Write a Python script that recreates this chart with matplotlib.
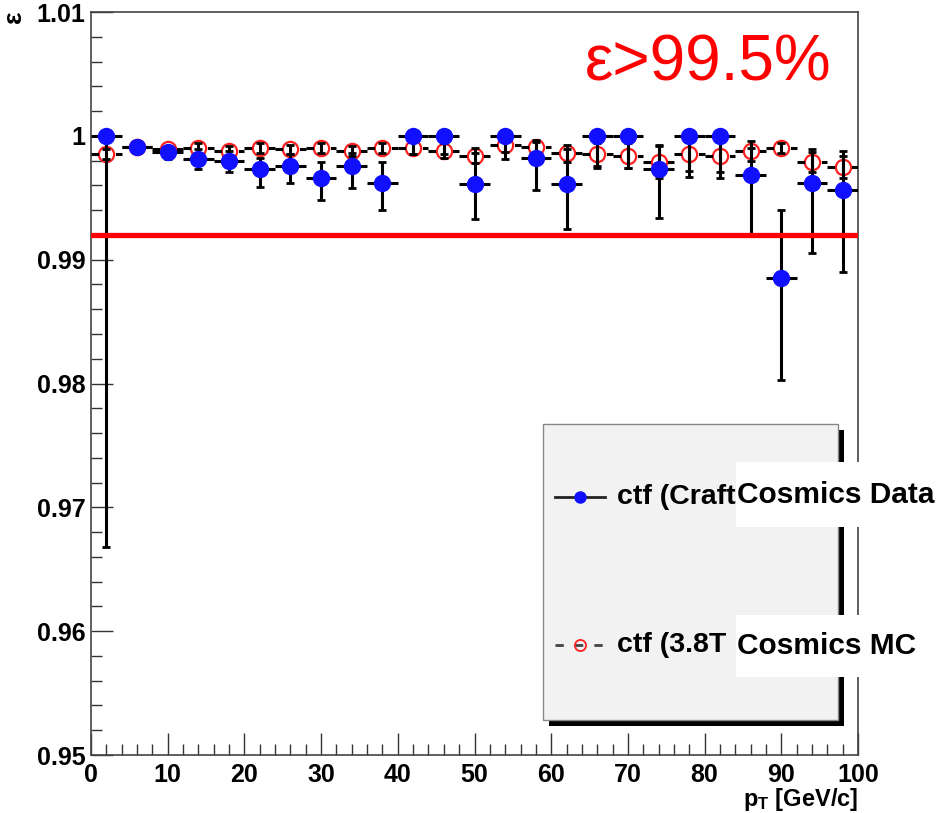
import matplotlib
matplotlib.use("Agg")
import matplotlib.pyplot as plt
from matplotlib.patches import Rectangle
from matplotlib.lines import Line2D
from matplotlib.ticker import MultipleLocator, FixedLocator

plt.rcParams['font.family'] = ['Liberation Sans', 'DejaVu Sans']
plt.rcParams['mathtext.fontset'] = 'custom'
plt.rcParams['mathtext.rm'] = 'Liberation Sans'
plt.rcParams['mathtext.bf'] = 'Liberation Sans:bold'

# pT bin centres (4 GeV/c wide bins)
pt_centers = [2, 6, 10, 14, 18, 22, 26, 30, 34, 38, 42, 46, 50,
              54, 58, 62, 66, 70, 74, 78, 82, 86, 90, 94, 98]
pt_halfwidth = [2] * 25

# Tracking efficiency, cosmics data (CRAFT)
data_eff = [1.0, 0.9991, 0.9987, 0.9981, 0.9980, 0.9973, 0.9976, 0.9966,
            0.9976, 0.9962, 1.0, 1.0, 0.9961, 1.0, 0.9982, 0.9961, 1.0,
            1.0, 0.9973, 1.0, 1.0, 0.9968, 0.9885, 0.9962, 0.9956]
data_err_lo = [0.0332, 0.0002, 0.0006, 0.0008, 0.0009, 0.0014, 0.0014,
               0.0018, 0.0018, 0.0022, 0.0015, 0.0015, 0.0028, 0.0019,
               0.0026, 0.0036, 0.0026, 0.0026, 0.0039, 0.0033, 0.0034,
               0.0048, 0.0082, 0.0057, 0.0066]
data_err_hi = [0.0, 0.0002, 0.0004, 0.0008, 0.0008, 0.0009, 0.0009,
               0.0013, 0.0010, 0.0017, 0.0, 0.0, 0.0025, 0.0, 0.0013,
               0.0028, 0.0, 0.0, 0.0020, 0.0, 0.0, 0.0022, 0.0055,
               0.0027, 0.0032]

# Tracking efficiency, cosmics simulation (3.8T)
mc_eff = [0.9985, 0.9991, 0.9989, 0.9990, 0.9988, 0.9990, 0.9989, 0.9990,
          0.9988, 0.9990, 0.9990, 0.9988, 0.9984, 0.9993, 0.9991, 0.9986,
          0.9985, 0.9984, 0.9979, 0.9985, 0.9984, 0.9988, 0.9990, 0.9979,
          0.9975]
mc_err = [0.0004, 0.0003, 0.0003, 0.0004, 0.0004, 0.0004, 0.0004, 0.0004,
          0.0004, 0.0004, 0.0005, 0.0006, 0.0006, 0.0006, 0.0006, 0.0007,
          0.0009, 0.0010, 0.0013, 0.0013, 0.0013, 0.0008, 0.0004, 0.0008,
          0.0009]

threshold = 0.992

yticks = [0.95, 0.96, 0.97, 0.98, 0.99, 1.0, 1.01]
ytick_labels = ['0.95', '0.96', '0.97', '0.98', '0.99', '1', '1.01']
xticks = [0, 10, 20, 30, 40, 50, 60, 70, 80, 90, 100]

W, H = 943, 813
fig = plt.figure(figsize=(W / 100, H / 100), dpi=100)
L, R, T, B = 91, 858, 12, 755
ax = fig.add_axes([L / W, 1 - B / H, (R - L) / W, (B - T) / H])
ax.set_xlim(0, 100)
ax.set_ylim(0.95, 1.01)

# simulation: open red circles with dashed horizontal bars
ax.plot(pt_centers, mc_eff, linestyle='none', marker='o', ms=11,
        mfc='none', mec='#ff2020', mew=1.6, zorder=3)
mc_x = ax.errorbar(pt_centers, mc_eff, xerr=pt_halfwidth, fmt='none',
                   ecolor='black', elinewidth=2.2, capsize=0, zorder=4)
for lc in mc_x[2]:
    lc.set_linestyle((0, (2.5, 5.5)))
ax.errorbar(pt_centers, mc_eff, yerr=mc_err, fmt='none', ecolor='black',
            elinewidth=2.2, capsize=3, capthick=2, zorder=4)

# data: filled blue circles with solid error bars
ax.errorbar(pt_centers, data_eff, xerr=pt_halfwidth, fmt='none',
            ecolor='black', elinewidth=2.2, capsize=0, zorder=5)
ax.errorbar(pt_centers, data_eff, yerr=[data_err_lo, data_err_hi],
            fmt='none', ecolor='black', elinewidth=2.2, capsize=3,
            capthick=2, zorder=5)
ax.plot(pt_centers, data_eff, linestyle='none', marker='o', ms=11.5,
        mfc='#1010ff', mec='#1010ff', zorder=6)

# 99.2% reference line
ax.axhline(threshold, color='#ff0000', lw=3.8, zorder=7)

# axes style
ax.yaxis.set_major_locator(FixedLocator(yticks))
ax.set_yticklabels(ytick_labels)
ax.yaxis.set_minor_locator(MultipleLocator(0.002))
ax.xaxis.set_major_locator(FixedLocator(xticks))
ax.xaxis.set_minor_locator(MultipleLocator(2))
ax.tick_params(which='both', direction='in', top=False, right=False,
               color='#333333', width=1.0)
ax.tick_params(which='major', length=16)
ax.tick_params(which='minor', length=8)
ax.tick_params(axis='y', pad=4)
ax.tick_params(axis='x', pad=6)
for lab in ax.get_xticklabels() + ax.get_yticklabels():
    lab.set_fontweight('bold')
    lab.set_fontsize(18)
for sp in ax.spines.values():
    sp.set_color('#444444')
    sp.set_linewidth(1.2)

# legend box with shadow
def ax_pt(px, py):
    return (px - L) / (R - L), (B - py) / (B - T)

x0, y0 = ax_pt(543, 720)
x1, y1 = ax_pt(838, 424)
dx, dy = 6 / (R - L), 6 / (B - T)
ax.add_patch(Rectangle((x0 + dx, y0 - dy), x1 - x0, y1 - y0,
                       transform=ax.transAxes, facecolor='black',
                       edgecolor='none', zorder=8))
ax.add_patch(Rectangle((x0, y0), x1 - x0, y1 - y0, transform=ax.transAxes,
                       facecolor='#f2f2f2', edgecolor='#888888', lw=1.0,
                       zorder=9))

lx0, ey1 = ax_pt(555, 497)
lx1, ey2 = ax_pt(605, 645)
lxm = (lx0 + lx1) / 2
ax.add_line(Line2D([lx0, lx1], [ey1, ey1], transform=ax.transAxes,
                   color='#222222', lw=2, zorder=10))
ax.add_line(Line2D([lxm], [ey1], transform=ax.transAxes, marker='o',
                   ms=8, mfc='#1010ff', mec='#1010ff', zorder=11))
ax.add_line(Line2D([lx0, lx1], [ey2, ey2], transform=ax.transAxes,
                   color='#444444', lw=2, linestyle=(0, (3, 4)),
                   zorder=10))
ax.add_line(Line2D([lxm], [ey2], transform=ax.transAxes, marker='o',
                   ms=8, mfc='none', mec='#ff2020', mew=1.3, zorder=11))
tx, _ = ax_pt(617, 0)
ax.text(tx, ey1, 'ctf (Craft', transform=ax.transAxes, fontsize=20.5,
        fontweight='bold', va='center', ha='left', zorder=11)
ax.text(tx, ey2, 'ctf (3.8T I', transform=ax.transAxes, fontsize=20.5,
        fontweight='bold', va='center', ha='left', zorder=11)

# labels painted over the legend entries
for top, bot, label in [(462, 527, 'Cosmics Data'), (615, 677, 'Cosmics MC')]:
    fig.add_artist(Rectangle((736 / W, 1 - bot / H), (W - 736) / W,
                             (bot - top) / H, transform=fig.transFigure,
                             facecolor='white', edgecolor='none', zorder=20))
    fig.text(737 / W, 1 - (top + bot) / 2 / H, label, fontsize=21.5,
             fontweight='bold', va='center', ha='left', color='black',
             zorder=21)

# efficiency statement
fig.text(585 / W, 1 - 63 / H, 'ε>99.5%', fontsize=46, color='#ff0000',
         va='center', ha='left')

# axis titles
fig.text(14 / W, 1 - 17 / H, 'ε', fontsize=19, fontweight='bold',
         rotation=90, va='center', ha='center')
fig.text(858 / W, 1 - 799 / H, r'$\mathbf{p_{T}}$ [GeV/c]', fontsize=17,
         fontweight='bold', va='center', ha='right')

fig.savefig('out.png', dpi=100)
